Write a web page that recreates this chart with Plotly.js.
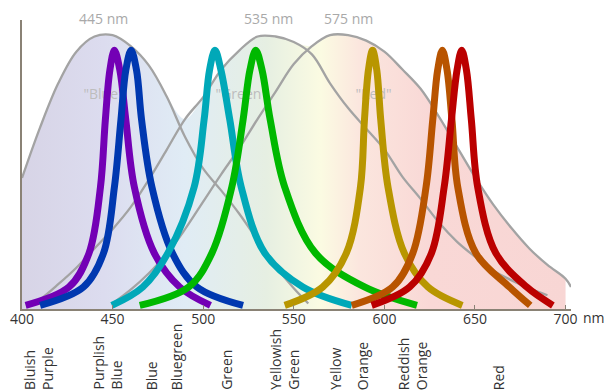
<!DOCTYPE html>
<html>
<head>
<meta charset="utf-8">
<script src="https://cdn.plot.ly/plotly-3.0.1.min.js"></script>
<style>html,body{margin:0;padding:0;background:#fff;}#chart{width:605px;height:391px;}</style>
</head>
<body>
<div id="chart"></div>
<script>
// Broad cone sensitivity curves (relative, 0..1)
var coneSx = [400,410,420,430,440,450,460,470,480,490,500,510,520,530,540,550,558];
var coneSy = [0.476,0.66,0.82,0.935,0.99,0.995,0.955,0.885,0.77,0.625,0.51,0.43,0.345,0.25,0.155,0.075,0.02];
var coneMx = [406,410,420,430,440,450,460,470,480,490,500,510,520,530,540,550,560,570,580,590,600,610,620,630,640,650,660,670,680,690];
var coneMy = [0.02,0.035,0.09,0.15,0.22,0.29,0.37,0.47,0.58,0.69,0.77,0.87,0.94,0.99,0.99,0.97,0.925,0.82,0.73,0.655,0.58,0.48,0.40,0.315,0.245,0.19,0.14,0.105,0.075,0.05];
var coneLx = [450,460,470,480,490,500,510,520,530,540,550,560,570,580,590,600,610,620,630,640,650,660,670,680,690,700,703];
var coneLy = [0.02,0.07,0.13,0.2,0.29,0.39,0.49,0.585,0.69,0.79,0.89,0.955,0.995,0.995,0.975,0.935,0.87,0.80,0.70,0.59,0.48,0.38,0.295,0.22,0.16,0.11,0.08];

var peakLabels = ["445 nm", "535 nm", "575 nm"];
var peakLabelX = [445, 536, 580];
var coneNames = ['"Blue"', '"Green"', '"Red"'];
var coneNameX = [445, 521, 594];
var coneNameY = [0.774, 0.774, 0.774];

// Narrow hue curves
var hueY = [0.013,0.08,0.203,0.443,0.687,0.868,0.94,0.868,0.687,0.443,0.203,0.08,0.013];
var purpleX = [402,426,437,443.3,446,448.5,451,454,457.3,462,473,487,504];
var purpleY = [0.013,0.08,0.203,0.443,0.687,0.868,0.94,0.868,0.687,0.443,0.203,0.08,0.013];
var blueX = [410,434,445,451,454.6,457.3,460.2,463.2,466,471.7,483,496.5,522];
var blueY = [0.013,0.08,0.203,0.443,0.687,0.868,0.94,0.868,0.687,0.443,0.203,0.08,0.013];
var cyanX = [449.6,466.7,480.5,495,500.5,503.5,506.5,509.8,514.7,521,534,555,582];
var cyanY = [0.013,0.08,0.203,0.443,0.687,0.868,0.94,0.868,0.687,0.443,0.203,0.08,0.013];
var greenX = [465,492,504.8,515.8,522,525.8,529,532.5,537,545,562,589,618];
var greenY = [0.013,0.08,0.203,0.443,0.687,0.868,0.94,0.868,0.687,0.443,0.203,0.08,0.013];
var yellowX = [545,566,579,586.8,589,591.2,593.5,595.8,598,602,611,624,643];
var yellowY = [0.013,0.08,0.203,0.443,0.687,0.868,0.94,0.868,0.687,0.443,0.203,0.08,0.013];
var orangeX = [582,604.6,615.7,623,626.7,629.4,632,634.6,637.3,640.5,650.5,669,680.5];
var orangeY = [0.013,0.08,0.203,0.443,0.687,0.868,0.94,0.868,0.687,0.443,0.203,0.08,0.013];
var redX = [593,614,626,633,637,640.1,642.7,645.3,648,651.5,661.5,678.5,693];
var redY = [0.013,0.08,0.203,0.443,0.687,0.868,0.94,0.868,0.687,0.443,0.203,0.08,0.013];

var hueColors = ["#7300b5","#0038b0","#00a8b8","#00b800","#b89600","#b85400","#bb0000"];

var tickVals = [400,450,500,550,600,650,700];
var tickText = ["400","450","500","550","600","650","700"];
var bandLabels = ["Bluish<br>Purple","Purplish<br>Blue","Blue","Bluegreen","Green","Yellowish<br>Green","Yellow","Orange","Reddish<br>Orange","Red"];
var bandLabelX = [409.1,447.2,471.7,485.5,513.1,544.8,573.2,588.1,615.9,663.1];

// envelope for the spectral fill
var wl = [];
for (var w = 400; w <= 700; w += 10) wl.push(w);
function valAt(xs, ys, w){ var i = xs.indexOf(w); return i >= 0 ? ys[i] : 0; }
var env = wl.map(function(w){
  return Math.max(valAt(coneSx,coneSy,w), valAt(coneMx,coneMy,w), valAt(coneLx,coneLy,w));
});

var font = "Open Sans, Noto Sans, sans-serif";
var traces = [];
traces.push({
  x: wl, y: env, type: 'scatter', mode: 'lines',
  line: {width: 0, shape: 'spline'}, fill: 'tozeroy',
  fillgradient: {type: 'horizontal', start: 400, stop: 700,
    colorscale: [[0,'#d7d4e6'],[0.15,'#dcdcef'],[0.3,'#e0ecf5'],[0.45,'#e6efe2'],[0.55,'#fbfbe2'],[0.62,'#fbe6de'],[0.75,'#f9d8d6'],[1,'#f8d6d4']]},
  hoverinfo: 'skip', showlegend: false
});
[[coneSx,coneSy],[coneMx,coneMy],[coneLx,coneLy]].forEach(function(c){
  traces.push({x: c[0], y: c[1], type: 'scatter', mode: 'lines',
    line: {color: '#a3a3a3', width: 2.3, shape: 'spline'}, hoverinfo: 'skip', showlegend: false});
});
traces.push({x: coneNameX, y: coneNameY, text: coneNames, type: 'scatter', mode: 'text',
  textfont: {family: font, size: 14, color: '#bdbdbd'}, hoverinfo: 'skip', showlegend: false});
[[purpleX,purpleY],[blueX,blueY],[cyanX,cyanY],[greenX,greenY],[yellowX,yellowY],[orangeX,orangeY],[redX,redY]].forEach(function(c, i){
  traces.push({x: c[0], y: c[1], type: 'scatter', mode: 'lines',
    line: {color: hueColors[i], width: 7, shape: 'spline', smoothing: 1}, hoverinfo: 'skip', showlegend: false});
});

var annotations = [];
peakLabels.forEach(function(t, i){
  annotations.push({text: t, x: peakLabelX[i], xref: 'x', y: 1, yref: 'paper', yanchor: 'middle', yshift: 2,
    showarrow: false, font: {family: font, size: 14, color: '#a9a9a9'}});
});
bandLabels.forEach(function(t, i){
  annotations.push({text: t, x: bandLabelX[i], xref: 'x', y: -0.287, yref: 'paper', xanchor: 'center', yanchor: 'bottom',
    textangle: -90, align: 'left', showarrow: false, font: {family: font, size: 14, color: '#333333'}});
});
annotations.push({text: 'nm', x: 700, xref: 'x', y: -0.031, yref: 'paper', xanchor: 'left', yanchor: 'middle', xshift: 15,
  showarrow: false, font: {family: font, size: 14, color: '#333333'}});

var layout = {
  width: 605, height: 391,
  margin: {l: 22, r: 34, t: 20, b: 82},
  paper_bgcolor: '#ffffff', plot_bgcolor: '#ffffff',
  showlegend: false,
  xaxis: {range: [400, 703], tickvals: tickVals, ticktext: tickText, showgrid: false, zeroline: false,
    showline: true, linecolor: '#8a8275', linewidth: 2, ticks: 'inside', ticklen: 4, tickcolor: '#8a8275',
    ticklabelstandoff: -4,
    tickfont: {family: font, size: 14, color: '#333333'}},
  yaxis: {range: [0, 1.05], showgrid: false, zeroline: false, showticklabels: false, ticks: '',
    showline: true, linecolor: '#8a8275', linewidth: 2},
  annotations: annotations
};
Plotly.newPlot('chart', traces, layout, {displayModeBar: false, staticPlot: true});
</script>
</body>
</html>
